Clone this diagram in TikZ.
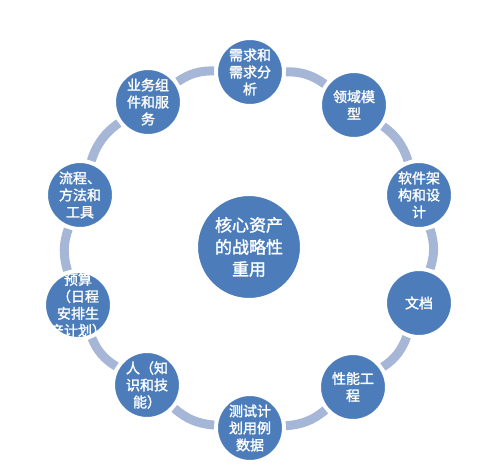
\documentclass[tikz,border=0pt]{standalone}
\usepackage{fontspec}
\usetikzlibrary{backgrounds}
\newfontfamily\cjk{Noto Sans CJK SC}[FakeBold=1.6]
\definecolor{bubfill}{RGB}{76,125,186}
\definecolor{ringc}{RGB}{166,182,214}
\begin{document}
\begin{tikzpicture}[x=1pt,y=1pt,
  bub/.style={circle,minimum size=66pt,inner sep=0pt,fill=bubfill,draw=white,line width=2pt},
  hub/.style={circle,minimum size=104pt,inner sep=0pt,fill=bubfill,draw=white,line width=2pt},
  lbl/.style={text=white,align=center,font=\cjk\fontsize{14}{17}\selectfont,inner sep=0pt},
  hlbl/.style={text=white,align=center,font=\cjk\fontsize{17}{22}\selectfont,inner sep=0pt},
  ring/.style={draw=ringc,line width=9pt,shorten >=2pt,shorten <=2pt,bend left=18}]
\useasboundingbox (0,0) rectangle (500,472);
\node[bub] (n1) at (250,400) {};
\node[bub] (n2) at (354,367) {};
\node[bub] (n3) at (419,277) {};
\node[bub] (n4) at (419,169) {};
\node[bub] (n5) at (353,85) {};
\node[bub] (n6) at (250,44) {};
\node[bub] (n7) at (147,87) {};
\node[bub] (n8) at (78,167) {};
\node[bub] (n9) at (80,277) {};
\node[bub] (n10) at (148,370) {};
\node[hub] (c) at (249,225) {};
\begin{scope}[on background layer]
\draw[ring] (n1) to (n2);
\draw[ring] (n2) to (n3);
\draw[ring] (n3) to (n4);
\draw[ring] (n4) to (n5);
\draw[ring] (n5) to (n6);
\draw[ring] (n6) to (n7);
\draw[ring] (n7) to (n8);
\draw[ring] (n8) to (n9);
\draw[ring] (n9) to (n10);
\draw[ring] (n10) to (n1);
\end{scope}
\node[lbl] at (n1) {需求和\\需求分\\析};
\node[lbl] at (n2) {领域模\\型};
\node[lbl] at (n3) {软件架\\构和设\\计};
\node[lbl] at (n4) {文档};
\node[lbl] at (n5) {性能工\\程};
\node[lbl] at (n6) {测试计\\划用例\\数据};
\node[lbl] at (n7) {人（知\\识和技\\能）};
\node[lbl] at (n8) {预算\\（日程\\安排生\\产计划）};
\node[lbl] at (n9) {流程、\\方法和\\工具};
\node[lbl] at (n10) {业务组\\件和服\\务};
\node[hlbl] at (c) {核心资产\\的战略性\\重用};
\end{tikzpicture}
\end{document}
